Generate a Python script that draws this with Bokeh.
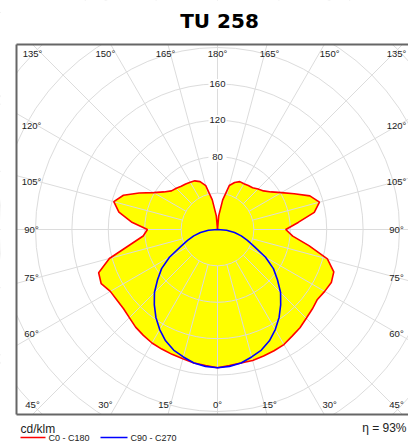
import numpy as np
from bokeh.plotting import figure
from bokeh.models import Range1d
from bokeh.core.properties import value
from bokeh.embed import file_html
from bokeh.resources import INLINE

# ---------------- data ----------------
title_text = "TU 258"
gamma = list(range(0, 181, 5))  # degrees from nadir
c0 = [152, 150, 149, 149, 148, 147, 146, 143, 141, 138, 136, 134, 136, 138, 136,
      125, 102, 83, 75, 89, 108, 116, 108, 93, 81, 72, 66, 63, 60, 59, 58, 58,
      55, 50, 33, 15, 0]
c180 = [152, 150, 149, 147, 146, 145, 144, 142, 140, 137, 135, 135, 136, 141, 139,
        123, 98, 82, 77, 95, 110, 118, 110, 95, 81, 72, 66, 64, 62, 61, 60, 59,
        56, 50, 33, 15, 0]
gamma_b = list(range(0, 91, 5))
c90 = [152, 151, 149, 145, 141, 135, 127, 118, 108, 98, 86, 75, 61, 45, 35, 27, 19, 10, 0]
c270 = [152, 151, 149, 145, 141, 135, 127, 118, 108, 98, 86, 75, 61, 45, 35, 27, 19, 10, 0]
rings = [40, 80, 120, 160, 200, 240, 280]
ring_labels = [80, 120, 160]
angle_ticks = [0, 15, 30, 45, 60, 75, 90, 105, 120, 135, 150, 165, 180]
unit_label = "cd/klm"
eff_label = "\u03b7 = 93%"
legend_labels = ["C0 - C180", "C90 - C270"]
red_color = "#FF0000"
blue_color = "#0000FF"

# ---------------- layout (pixels) ----------------
K = 0.91            # pixels per cd
W, H = 408, 443
CX, CY = 217, 229   # polar centre on canvas
HW, HH = 201, 185   # half size of chart box


def u(pix):
    return pix / K


p = figure(width=W, height=H,
           x_range=Range1d(u(-CX), u(W - CX)), y_range=Range1d(u(-(H - CY)), u(CY)),
           output_backend="svg", toolbar_location=None, min_border=0,
           x_axis_location=None, y_axis_location=None)
p.xgrid.visible = False
p.ygrid.visible = False
p.outline_line_color = None
p.background_fill_color = "white"
p.border_fill_color = "white"

g = np.radians(gamma)
gb = np.radians(gamma_b)
c0a, c180a = np.array(c0, float), np.array(c180, float)
xr = c0a * np.sin(g)
yr = -c0a * np.cos(g)
xl = -c180a * np.sin(g)
yl = -c180a * np.cos(g)
px_ = np.concatenate([xr, xl[::-1]])
py_ = np.concatenate([yr, yl[::-1]])

# fill
p.patch(px_, py_, fill_color="#FFFF00", line_color=None)

# polar grid
grid_col = "#dcdcdc"
p.circle(x=[0] * len(rings), y=[0] * len(rings), radius=rings,
         fill_color=None, line_color=grid_col, line_width=1)
ang = np.radians(np.arange(0, 360, 15))
r0, r1 = rings[0], 420
p.segment(x0=r0 * np.sin(ang), y0=-r0 * np.cos(ang), x1=r1 * np.sin(ang), y1=-r1 * np.cos(ang),
          line_color=grid_col, line_width=1)

# curves
p.line(np.append(px_, px_[0]), np.append(py_, py_[0]), line_color=red_color, line_width=1.6)
c90a, c270a = np.array(c90, float), np.array(c270, float)
bx = np.concatenate([(-c270a * np.sin(gb))[::-1], c90a * np.sin(gb)])
by = np.concatenate([(-c270a * np.cos(gb))[::-1], -c90a * np.cos(gb)])
p.line(bx, by, line_color=blue_color, line_width=1.6)

# ring labels
small_font = value("Liberation Sans")
p.rect(x=[0] * len(ring_labels), y=ring_labels, width=18, height=10,
       width_units="screen", height_units="screen", fill_color="white", line_color=None)
p.text(x=[0] * len(ring_labels), y=ring_labels, text=[str(v) for v in ring_labels],
       text_align="center", text_baseline="middle", text_font=small_font,
       text_font_size="9.5px", text_color="#222222")

# masks outside the box
xmin, xmax = u(-CX), u(W - CX)
ymin, ymax = u(-(H - CY)), u(CY)
p.quad(left=[xmin, xmin, xmin], right=[xmax, xmax, u(-HW)],
       bottom=[u(HH), ymin, u(-HH)], top=[ymax, u(-HH), u(HH)],
       fill_color="white", line_color=None)

# box border
p.segment(x0=[u(-HW), u(-HW), u(-HW), u(HW)], y0=[u(-HH), u(HH), u(-HH), u(-HH)],
          x1=[u(-HW), u(HW), u(HW), u(HW)], y1=[u(HH), u(HH), u(-HH), u(HH)],
          line_color="#666666", line_width=2)

# angle labels
lx, ly, lt = [], [], []
for a in angle_ticks:
    if a <= 45:
        dx = min(HH * np.tan(np.radians(a)) * 1.05, 185)
        dy = -175
    elif a >= 135:
        dx = min(HH * np.tan(np.radians(180 - a)) * 1.05, 185)
        dy = 176
    else:
        dx = 186
        dy = -180 * np.tan(np.radians(90 - a))
    if dx < 1:
        pos = [0]
    else:
        pos = [-dx, min(dx, 179)]
    for xx in pos:
        lx.append(u(xx))
        ly.append(u(dy))
        lt.append(f"{a}\u00b0")
p.text(x=lx, y=ly, text=lt, text_align="center", text_baseline="middle",
       text_font=small_font, text_font_size="9.5px", text_color="#222222")

# title
p.text(x=[u(2)], y=[u(209)], text=[title_text], text_align="center", text_baseline="middle",
       text_font=value("DejaVu Sans"), text_font_style="bold", text_font_size="20px",
       text_color="#000000")

# unit and efficiency
p.text(x=[u(-197)], y=[u(-199)], text=[unit_label], text_align="left", text_baseline="middle",
       text_font=small_font, text_font_size="12px", text_color="#222222")
p.text(x=[u(189)], y=[u(-198)], text=[eff_label], text_align="right", text_baseline="middle",
       text_font=small_font, text_font_size="12px", text_color="#222222")

# legend
p.segment(x0=[u(-197), u(-117)], y0=[u(-208), u(-208)], x1=[u(-172), u(-90)], y1=[u(-208), u(-208)],
          line_color=[red_color, blue_color], line_width=1.6)
p.text(x=[u(-169), u(-87)], y=[u(-208), u(-208)], text=legend_labels, text_align="left",
       text_baseline="middle", text_font=small_font, text_font_size="9px", text_color="#222222")

open("out.html", "w").write(file_html(p, INLINE))
